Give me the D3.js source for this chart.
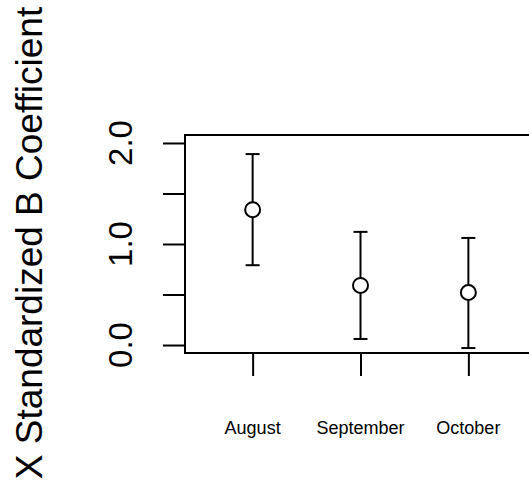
<!DOCTYPE html>
<html>
<head>
<meta charset="utf-8">
<script src="https://cdn.jsdelivr.net/npm/d3@7"></script>
<style>
  body { margin: 0; background: #fff; }
  svg { display: block; font-family: "Liberation Sans", Arial, Helvetica, sans-serif; }
</style>
</head>
<body>
<script>
var months = ["August", "September", "October"];
var estimates = [1.34, 0.59, 0.52];
var lower = [0.79, 0.06, -0.03];
var upper = [1.89, 1.12, 1.06];
var yTicks = [0, 0.5, 1, 1.5, 2];
var yLabelTicks = [0, 1, 2];

var width = 529, height = 482;
var boxLeft = 185, boxRight = 536, boxTop = 135, boxBottom = 353;
var r = 7.5;

var svg = d3.select('body')
            .append('svg')
            .attr('width', width)
            .attr('height', height);

var xScale = d3.scalePoint()
               .domain(months)
               .range([boxLeft, boxRight])
               .padding(0.627);

var yScale = d3.scaleLinear()
               .domain([-0.079, 2.079])
               .range([boxBottom, boxTop]);

var data = months.map((m, i) => ({month: m, est: estimates[i], lo: lower[i], hi: upper[i]}));

// box
svg.append('rect')
   .attr('x', boxLeft)
   .attr('y', boxTop)
   .attr('width', boxRight - boxLeft)
   .attr('height', boxBottom - boxTop)
   .attr('fill', 'none')
   .attr('stroke', 'black')
   .attr('stroke-width', 2);

// y axis ticks
var yAxis = svg.append('g')
   .attr('transform', 'translate(' + boxLeft + ',0)')
   .call(d3.axisLeft(yScale).tickValues(yTicks).tickSize(22).tickFormat(''));
yAxis.select('.domain').remove();
yAxis.selectAll('.tick line').attr('stroke-width', 2);

svg.selectAll('.ylab')
   .data(yLabelTicks)
   .enter()
   .append('text')
   .attr('class', 'ylab')
   .attr('transform', (d) => 'translate(132,' + yScale(d) + ') rotate(-90)')
   .attr('text-anchor', 'middle')
   .attr('font-size', 33)
   .attr('fill', 'black')
   .text((d) => d3.format('.1f')(d));

// x axis ticks
var xAxis = svg.append('g')
   .attr('transform', 'translate(0,' + boxBottom + ')')
   .call(d3.axisBottom(xScale).tickSize(23).tickFormat(''));
xAxis.select('.domain').remove();
xAxis.selectAll('.tick line').attr('stroke-width', 2);

svg.selectAll('.xlab')
   .data(months)
   .enter()
   .append('text')
   .attr('class', 'xlab')
   .attr('x', (d) => xScale(d))
   .attr('y', 434)
   .attr('text-anchor', 'middle')
   .attr('font-size', 18)
   .attr('fill', 'black')
   .text((d) => d);

// error bars
var g = svg.selectAll('.ci')
   .data(data)
   .enter()
   .append('g')
   .attr('class', 'ci')
   .attr('stroke', 'black')
   .attr('stroke-width', 2)
   .attr('fill', 'none');

g.append('line')
 .attr('x1', (d) => xScale(d.month))
 .attr('x2', (d) => xScale(d.month))
 .attr('y1', (d) => yScale(d.hi))
 .attr('y2', (d) => yScale(d.est) - r);

g.append('line')
 .attr('x1', (d) => xScale(d.month))
 .attr('x2', (d) => xScale(d.month))
 .attr('y1', (d) => yScale(d.est) + r)
 .attr('y2', (d) => yScale(d.lo));

g.append('line')
 .attr('x1', (d) => xScale(d.month) - 7)
 .attr('x2', (d) => xScale(d.month) + 7)
 .attr('y1', (d) => yScale(d.hi))
 .attr('y2', (d) => yScale(d.hi));

g.append('line')
 .attr('x1', (d) => xScale(d.month) - 7)
 .attr('x2', (d) => xScale(d.month) + 7)
 .attr('y1', (d) => yScale(d.lo))
 .attr('y2', (d) => yScale(d.lo));

g.append('circle')
 .attr('cx', (d) => xScale(d.month))
 .attr('cy', (d) => yScale(d.est))
 .attr('r', r);

// y title
svg.append('text')
   .attr('transform', 'translate(42,243) rotate(-90)')
   .attr('text-anchor', 'middle')
   .attr('font-size', 37)
   .attr('fill', 'black')
   .text('X Standardized B Coefficient');
</script>
</body>
</html>
